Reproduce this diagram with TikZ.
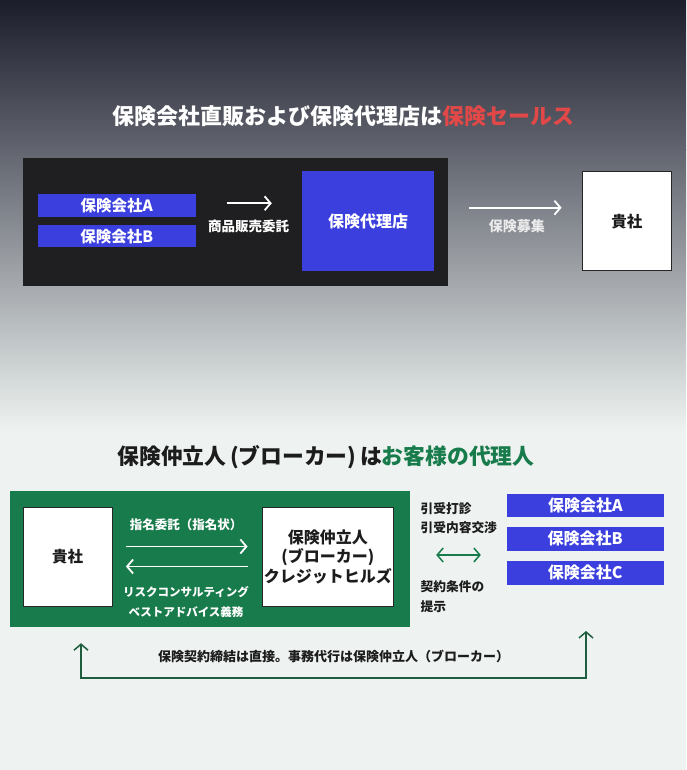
\documentclass[tikz,border=0pt]{standalone}
\usepackage{fontspec}
\setmainfont{Noto Sans CJK JP}
\usepackage{xcolor}
\usetikzlibrary{arrows.meta,positioning}
\definecolor{bgtop}{HTML}{1B1D2B}
\definecolor{bgmid}{HTML}{62656F}
\definecolor{bglight}{HTML}{EEF3F1}
\definecolor{darkbox}{HTML}{1F1F21}
\definecolor{coblue}{HTML}{3A3FDD}
\definecolor{salesred}{HTML}{E34848}
\definecolor{brokergreen}{HTML}{187B4B}
\definecolor{linegreen}{HTML}{1E5E3F}
\definecolor{inktext}{HTML}{1C1C1C}
\begin{document}
\begin{tikzpicture}[x=1pt,y=-1pt,
bluebox/.style={fill=coblue,text=white,font=\fontsize{15.5}{17}\selectfont\bfseries,minimum width=157.5pt,inner sep=0pt},
whitebox/.style={fill=white,draw=black!85,line width=0.8pt,text=inktext,font=\fontsize{15.5}{19.5}\selectfont\bfseries,align=center,minimum width=89pt,minimum height=99pt,inner sep=0pt},
lbl/.style={font=\fontsize{12.7}{14}\selectfont\bfseries,inner sep=0pt},
warr/.style={white,line width=1.8pt,-{Straight Barb[length=6pt,width=14pt]}},
garr/.style={line width=1.5pt,{Straight Barb[length=6pt,width=14pt]}-{Straight Barb[length=6pt,width=14pt]}}]
\useasboundingbox (0,0) rectangle (686,770);
\fill[top color=bgtop,bottom color=bgmid] (0,0) rectangle (686,150.5);
\fill[top color=bgmid,bottom color=bglight] (0,150) rectangle (686,430.5);
\fill[bglight] (0,430) rectangle (686,770);
\node[font=\fontsize{22}{24}\selectfont\bfseries,text=white] (title1) at (343,116) {保険会社直販および保険代理店は{\color{salesred}保険セールス}};
\node[fill=darkbox,minimum width=425pt,minimum height=128pt,inner sep=0pt] (agentbox) at (235.5,221.7) {};
\node[bluebox,minimum height=22.5pt] (ia) at (116.75,205.3) {保険会社A};
\node[bluebox,minimum height=22pt] (ib) at (116.75,236.2) {保険会社B};
\node[bluebox,minimum width=132pt,minimum height=100pt,font=\fontsize{16}{18}\selectfont\bfseries] (dairi) at (368,221) {保険代理店};
\node[whitebox,minimum width=89.5pt] (kisha) at (626.75,221.3) {貴社};
\node[lbl,text=white,font=\fontsize{13.5}{15}\selectfont\bfseries] (itaku) at (248.5,226.7) {商品販売委託};
\node[lbl,text=white!92!black,font=\fontsize{14}{15}\selectfont\bfseries] (boshu) at (516.8,226) {保険募集};
\draw[warr,shorten <=31pt,shorten >=30pt] ([yshift=2pt]ia.east) -- ([yshift=2pt]ia.east -| dairi.west);
\draw[warr,shorten <=21pt,shorten >=20pt] ([yshift=14pt]agentbox.east) -- ([yshift=14pt]agentbox.east -| kisha.west);
\node[font=\fontsize{21.8}{24}\selectfont\bfseries,text=inktext] (title2) at (326,456.7) {保険仲立人\,(ブローカー)\,は{\color{brokergreen}お客様の代理人}};
\node[fill=brokergreen,minimum width=400pt,minimum height=136pt,inner sep=0pt] (gbox) at (210,559) {};
\node[whitebox] (kisha2) at (67.5,556.5) {貴社};
\node[whitebox,minimum width=130.5pt,font=\fontsize{16}{19.5}\selectfont\bfseries] (broker) at (327.75,556.5) {保険仲立人\\(ブローカー)\\クレジットヒルズ};
\node[lbl,text=white,font=\fontsize{12.5}{14}\selectfont\bfseries] (shimei) at (186,525) {指名委託（指名状）};
\node[lbl,text=white,font=\fontsize{11.5}{14}\selectfont\bfseries] (risk) at (186,592) {リスクコンサルティング};
\node[lbl,text=white,font=\fontsize{11.5}{14}\selectfont\bfseries] (best) at (186,611.7) {ベストアドバイス義務};
\draw[warr,shorten <=13.5pt,shorten >=14.5pt] ([yshift=10pt]kisha2.east) -- ([yshift=10pt]broker.west);
\draw[warr,shorten >=13.5pt,shorten <=14.5pt] ([yshift=-10pt]broker.west) -- ([yshift=-10pt]kisha2.east);
\node[bluebox,minimum height=23pt,font=\fontsize{16}{18}\selectfont\bfseries] (ca) at (585.3,505.3) {保険会社A};
\node[bluebox,minimum height=24pt,font=\fontsize{16}{18}\selectfont\bfseries] (cb) at (585.3,538.5) {保険会社B};
\node[bluebox,minimum height=24pt,font=\fontsize{16}{18}\selectfont\bfseries] (cc) at (585.3,572.8) {保険会社C};
\node[lbl,text=inktext,anchor=west] (dashin) at (420.5,509) {引受打診};
\node[lbl,text=inktext,anchor=west] (koushou) at (420.5,528) {引受内容交渉};
\node[lbl,text=inktext,anchor=west] (jouken) at (420.5,587) {契約条件の};
\node[lbl,text=inktext,anchor=west] (teiji) at (420.5,606.7) {提示};
\draw[garr,brokergreen,shorten <=26pt,shorten >=25.5pt] ([yshift=4pt]gbox.east) -- ([yshift=4pt]gbox.east -| cb.west);
\coordinate (bl) at (81,678);
\coordinate (br) at (586,678);
\draw[garr,linegreen,shorten <=16pt,shorten >=46pt] (gbox.south -| bl) -- (bl) -- node[lbl,text=inktext,font=\fontsize{13}{14}\selectfont\bfseries,above=14pt] (chokusetsu) {保険契約締結は直接。事務代行は保険仲立人（ブローカー）} (br) -- (cc.south -| br);
\end{tikzpicture}
\end{document}
